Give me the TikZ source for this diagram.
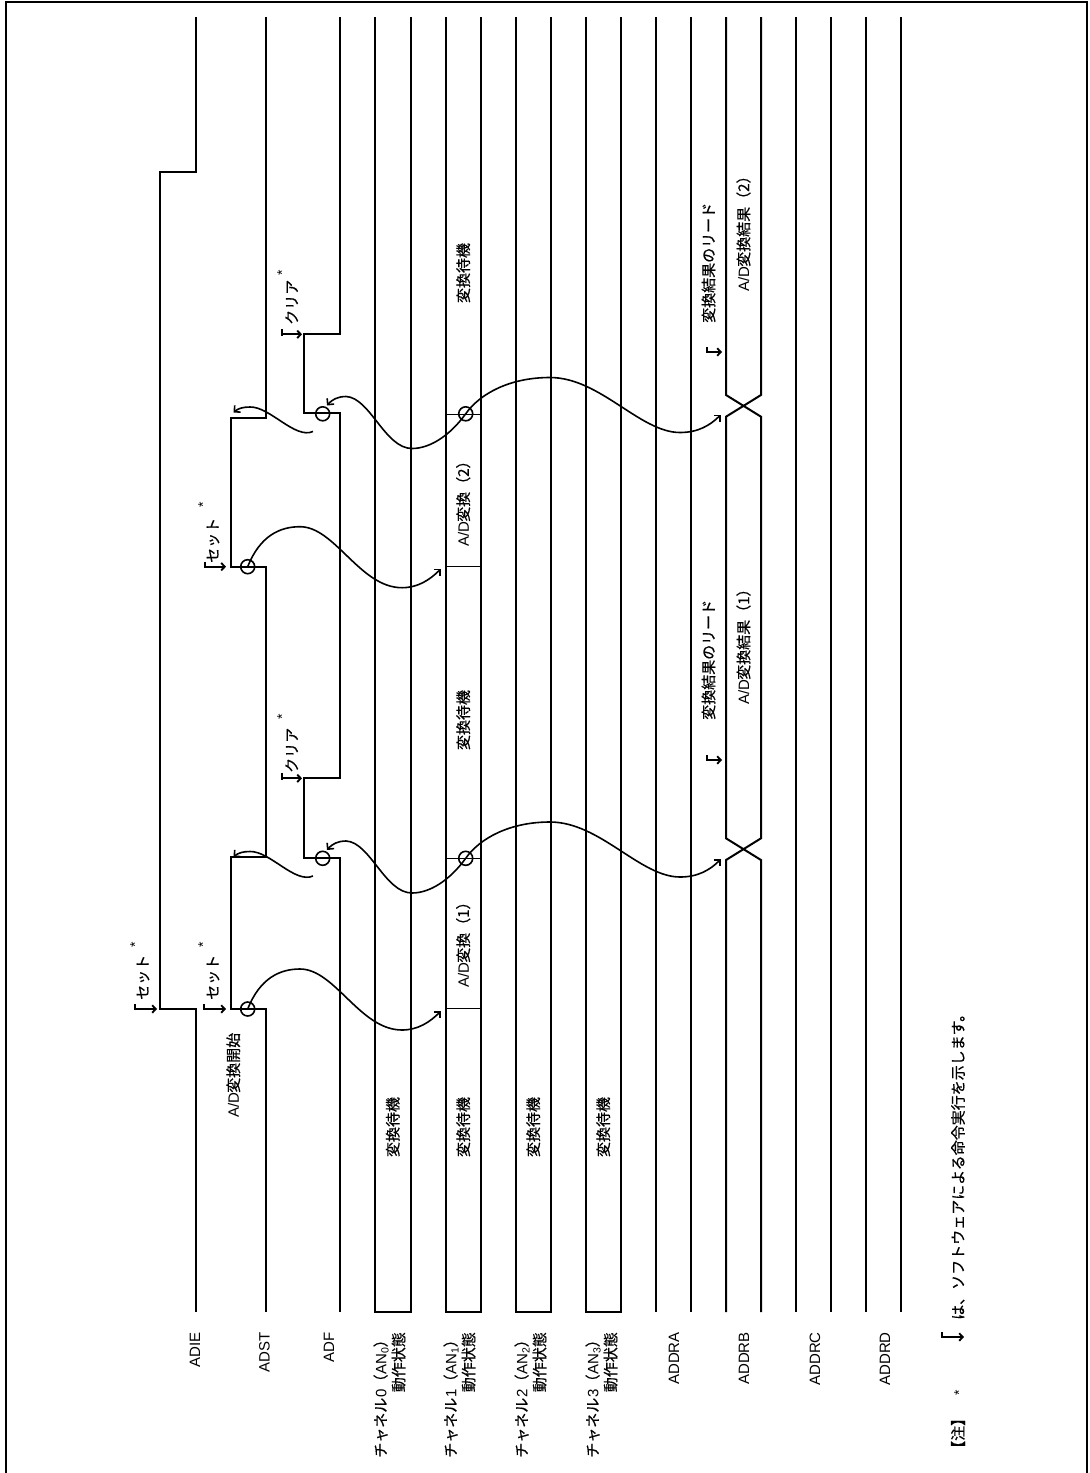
\documentclass[tikz,border=0pt]{standalone}
\usepackage{fontspec}
\setmainfont{Liberation Sans}
\newfontfamily\jp[FakeBold=0.5]{Noto Sans CJK JP}
\newcommand\J[1]{{\jp #1}}
\usetikzlibrary{arrows.meta}
% software-execution mark: name, tip x, tip y, length
\newcommand\swmark[4]{%
  \draw[line width=2.6pt] ({#2-#4},{#3-5}) -- ({#2-#4},{#3+1.2});
  \draw[line width=1.9pt,-{Straight Barb[length=3.5pt,width=7.5pt]}] ({#2-#4},#3) coordinate (#1) -- (#2,#3);
}
\begin{document}
\begin{tikzpicture}[x=1pt,y=-1pt,
  sig/.style={line width=2pt,line join=miter},
  divider/.style={line width=1pt},
  wavy/.style={line width=1.6pt},
  ring/.style={line width=1.6pt},
  tip/.style={-{Straight Barb[length=4.5pt,width=9pt]}},
  tips/.style={{Straight Barb[length=4.5pt,width=9pt]}-{Straight Barb[length=4.5pt,width=9pt]}},
  txt/.style={rotate=90,inner sep=0pt,font=\fontsize{15}{18}\selectfont},
  ast/.style={rotate=90,inner sep=0pt,font=\fontsize{14}{14}\selectfont}]
\useasboundingbox (0,0) rectangle (1090,1473);
% frame
\draw[line width=2pt] (6,1473) -- (6,2) -- (1087,2) -- (1087,1473);

% ---- signal lines ----
% ADIE
\draw[sig] (195.7,1312) -- (195.7,1009) -- (160,1009) -- (160,172) -- (195.7,172) -- (195.7,17);
% ADST
\draw[sig] (265.7,1312) -- (265.7,1009) -- (230.7,1009) -- (230.7,856.7) -- (265.7,856.7)
  -- (265.7,566.7) -- (230.7,566.7) -- (230.7,418.3) -- (265.7,418.3) -- (265.7,17);
% ADF
\draw[sig] (340,1312) -- (340,858) -- (304,858) -- (304,778.3) -- (340,778.3)
  -- (340,413.3) -- (304,413.3) -- (304,334.3) -- (340,334.3) -- (340,17);
% channel boxes
\draw[sig] (375,17) -- (375,1312) -- (410.7,1312) -- (410.7,17);
\draw[sig] (445.7,17) -- (445.7,1312) -- (480.7,1312) -- (480.7,17);
\draw[sig] (515.7,17) -- (515.7,1312) -- (550.7,1312) -- (550.7,17);
\draw[sig] (585.7,17) -- (585.7,1312) -- (620.7,1312) -- (620.7,17);
% channel 1 dividers
\draw[divider] (445.7,1008) -- (480.7,1008);
\draw[divider] (445.7,858.3) -- (480.7,858.3);
\draw[divider] (445.7,566.7) -- (480.7,566.7);
\draw[divider] (445.7,414) -- (480.7,414);
% ADDRA
\draw[sig] (656,17) -- (656,1312);
\draw[sig] (691,17) -- (691,1312);
% ADDRB with two transitions
\draw[sig] (726,1312) -- (726,860) -- (761,838.3) -- (761,416.7) -- (726,395) -- (726,17);
\draw[sig] (761,1312) -- (761,860) -- (726,838.3) -- (726,416.7) -- (761,395) -- (761,17);
% ADDRC, ADDRD
\draw[sig] (796,17) -- (796,1312);
\draw[sig] (831,17) -- (831,1312);
\draw[sig] (866,17) -- (866,1312);
\draw[sig] (901,17) -- (901,1312);

% ---- cycle 1 ----
\coordinate (st1) at (247.7,1009);
\coordinate (adf1) at (322.7,858.3);
\coordinate (cv1) at (465.7,858.3);
\draw[ring] (st1) circle[radius=7pt];
\draw[ring] (adf1) circle[radius=7pt];
\draw[ring] (cv1) circle[radius=7pt];
\coordinate (c1e) at (441,1011);
\draw[wavy,tip] (st1) .. controls (260,978) and (280,969) .. (300,969)
  .. controls (335,969) and (360,1030) .. (402,1030)
  .. controls (418,1030) and (430,1022) .. (c1e);
\coordinate (c2a) at (327,850);
\coordinate (c2b) at (721,859);
\draw[wavy,tips] (c2a) .. controls (332,844) and (338,841) .. (346,841)
  .. controls (370,842) and (385,893) .. (412,893)
  .. controls (430,893) and (450,880) .. (cv1)
  .. controls (480,838) and (510,822) .. (550,822)
  .. controls (600,822) and (640,877) .. (680,877)
  .. controls (698,877) and (710,870) .. (c2b);
\coordinate (c3a) at (313,876);
\coordinate (c3b) at (233.5,857);
\draw[wavy,tip] (c3a) .. controls (295,884) and (270,851) .. (250,851.5)
  .. controls (243,851.5) and (238,853) .. (c3b);

% ---- cycle 2 ----
\begin{scope}[yshift=442.3pt]
\coordinate (st2) at (247.7,1009);
\draw[ring] (st2) circle[radius=7pt];
\coordinate (c4e) at (441,1011);
\draw[wavy,tip] (st2) .. controls (260,978) and (280,969) .. (300,969)
  .. controls (335,969) and (360,1030) .. (402,1030)
  .. controls (418,1030) and (430,1022) .. (c4e);
\end{scope}
\begin{scope}[yshift=444.5pt]
\coordinate (adf2) at (322.7,858.3);
\coordinate (cv2) at (465.7,858.3);
\draw[ring] (adf2) circle[radius=7pt];
\draw[ring] (cv2) circle[radius=7pt];
\coordinate (c5a) at (327,850);
\coordinate (c5b) at (721,859);
\draw[wavy,tips] (c5a) .. controls (332,844) and (338,841) .. (346,841)
  .. controls (370,842) and (385,893) .. (412,893)
  .. controls (430,893) and (450,880) .. (cv2)
  .. controls (480,838) and (510,822) .. (550,822)
  .. controls (600,822) and (640,877) .. (680,877)
  .. controls (698,877) and (710,870) .. (c5b);
\coordinate (c6a) at (313,876);
\coordinate (c6b) at (233.5,857);
\draw[wavy,tip] (c6a) .. controls (295,884) and (270,851) .. (250,851.5)
  .. controls (243,851.5) and (238,853) .. (c6b);
\end{scope}

% ---- software marks ----
\swmark{mADIE}{157}{1009}{22}
\swmark{mSet1}{226}{1009}{22}
\swmark{mSet2}{226}{566.7}{21}
\swmark{mClr1}{302}{778.3}{20}
\swmark{mClr2}{302}{334.3}{20}
\swmark{mRd1}{722}{760}{15}
\swmark{mRd2}{722}{352}{15}

\node[txt,anchor=west] (tSet0) at (143,1000) {\J{セット}};
\node[ast] (aSet0) at (135,945) {*};
\node[txt,anchor=west] (tSet1) at (213,1000) {\J{セット}};
\node[ast] (aSet1) at (203,945) {*};
\node[txt,anchor=west] (tSet2) at (213,563) {\J{セット}};
\node[ast] (aSet2) at (203,505) {*};
\node[txt,anchor=west] (tClr1) at (291.7,773) {\J{クリア}};
\node[ast] (aClr1) at (282,716.7) {*};
\node[txt,anchor=west] (tClr2) at (291.7,325) {\J{クリア}};
\node[ast] (aClr2) at (282,272.7) {*};
\node[txt,anchor=west] (tStart) at (233.3,1118) {A/D\J{変換開始}};

% ---- state texts ----
\node[txt] (w0) at (392.8,1127) {\J{変換待機}};
\node[txt] (w1) at (463.2,1127) {\J{変換待機}};
\node[txt] (w2) at (533.2,1127) {\J{変換待機}};
\node[txt] (w3) at (603.2,1127) {\J{変換待機}};
\node[txt,anchor=west] (cv1t) at (463.2,988) {A/D\J{変換（1）}};
\node[txt] (w1b) at (463.2,720) {\J{変換待機}};
\node[txt,anchor=west] (cv2t) at (463.2,547) {A/D\J{変換（2）}};
\node[txt] (w1c) at (463.2,273) {\J{変換待機}};
\node[txt,anchor=west] (rd1) at (708.5,720) {\J{変換結果のリード}};
\node[txt,anchor=west] (rd2) at (708.5,323) {\J{変換結果のリード}};
\node[txt,anchor=west] (res1) at (743.5,705) {A/D\J{変換結果（1）}};
\node[txt,anchor=west] (res2) at (743.5,292) {A/D\J{変換結果（2）}};

% ---- signal names ----
\node[txt,anchor=east] (lADIE) at (195,1332) {ADIE};
\node[txt,anchor=east] (lADST) at (264.5,1332) {ADST};
\node[txt,anchor=east] (lADF) at (329,1332) {ADF};
\node[txt,anchor=east,align=right] (lch0) at (389.5,1332) {\J{チャネル}0\J{（}AN\textsubscript{0}\J{）}\\\J{動作状態}};
\node[txt,anchor=east,align=right] (lch1) at (459.5,1332) {\J{チャネル}1\J{（}AN\textsubscript{1}\J{）}\\\J{動作状態}};
\node[txt,anchor=east,align=right] (lch2) at (530.5,1332) {\J{チャネル}2\J{（}AN\textsubscript{2}\J{）}\\\J{動作状態}};
\node[txt,anchor=east,align=right] (lch3) at (601.5,1332) {\J{チャネル}3\J{（}AN\textsubscript{3}\J{）}\\\J{動作状態}};
\node[txt,anchor=east] (lA) at (674,1332) {ADDRA};
\node[txt,anchor=east] (lB) at (744,1332) {ADDRB};
\node[txt,anchor=east] (lC) at (815,1332) {ADDRC};
\node[txt,anchor=east] (lD) at (885,1332) {ADDRD};

% ---- note ----
\node[txt,anchor=west] (note) at (958,1456) {\J{【注】}};
\node[ast] (noteast) at (959,1393) {*};
\swmark{mLeg}{964}{1337}{22}
\node[txt,anchor=west] (legend) at (958,1320) {\J{は、ソフトウェアによる命令実行を示します。}};
\end{tikzpicture}
\end{document}
